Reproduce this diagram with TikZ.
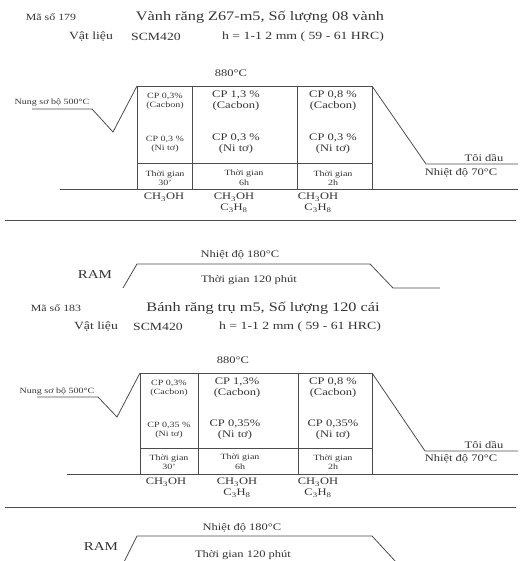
\documentclass[tikz,border=0pt]{standalone}
\usepackage{fontspec}
\setmainfont{Liberation Serif}[FakeStretch=1.25]
\begin{document}
\begin{tikzpicture}[x=1pt,y=-1pt,
  ln/.style={draw=black!70,line width=0.8pt},
  txt/.style={inner sep=0pt,text=black!80,align=center},
  ttl/.style={txt,font=\fontsize{13}{14}\selectfont},
  subl/.style={txt,font=\fontsize{11}{12}\selectfont},
  msl/.style={txt,font=\fontsize{9.5}{10}\selectfont},
  cellA/.style={txt,font=\fontsize{10}{11}\selectfont},
  cellS/.style={txt,font=\fontsize{8}{9}\selectfont},
  cellT/.style={txt,font=\fontsize{8}{9.5}\selectfont},
  lbl/.style={txt,font=\fontsize{10}{11}\selectfont},
  tiny/.style={txt,font=\fontsize{8}{9}\selectfont},
  ramt/.style={txt,font=\fontsize{12}{13}\selectfont}]
\useasboundingbox (0,0) rectangle (520,561);
\clip (0,0) rectangle (520,561);

% ===== Section 1 =====
\node[msl] (ms1) at (51,17) {Mã số 179};
\node[ttl] (t1) at (260,17) {Vành răng Z67-m5, Số lượng 08 vành};
\node[subl] (vl1) at (91,37) {Vật liệu};
\node[subl] (scm1) at (156,37) {SCM420};
\node[subl] (h1) at (303,37) {h = 1-1 2 mm ( 59 - 61 HRC)};
\node[cellA] (d1) at (231,73) {880°C};

\coordinate (a1) at (32,109);
\coordinate (a2) at (92,109);
\coordinate (a3) at (113,132);
\coordinate (a4) at (137,86);
\coordinate (a5) at (372,86);
\coordinate (a6) at (426,164);
\coordinate (a7) at (518,164);
\draw[ln] (a1) -- (a2) -- (a3) -- (a4);
\draw[ln] (a5) -- (a6) -- (a7);
\draw[ln] (137,86) rectangle (372,189);
\draw[ln] (192,86) -- (192,189);
\draw[ln] (297,86) -- (297,189);
\draw[ln] (137,163) -- (372,163);
\draw[ln] (60,189) -- (518,189);
\draw[ln] (5,220) -- (516,220);

\node[tiny] (n1) at (52,103) {Nung sơ bộ 500°C};
\node[lbl] (td1) at (484,158) {Tôi dầu};
\node[lbl] (nd1) at (461,173) {Nhiệt độ 70°C};

\node[cellS] (c11) at (165,101) {CP 0,3\%\\(Cacbon)};
\node[cellS] (c12) at (165,144) {CP 0,3 \%\\(Ni tơ)};
\node[cellS] (c13) at (165,178) {Thời gian\\30'};
\node[cellA] (c21) at (236,101) {CP 1,3 \%\\(Cacbon)};
\node[cellA] (c22) at (236,144) {CP 0,3 \%\\(Ni tơ)};
\node[cellT] (c23) at (244,178) {Thời gian\\6h};
\node[cellA] (c31) at (333,101) {CP 0,8 \%\\(Cacbon)};
\node[cellA] (c32) at (333,144) {CP 0,3 \%\\(Ni tơ)};
\node[cellT] (c33) at (333,178) {Thời gian\\2h};
\node[cellA,anchor=north] (g11) at (164,193) {CH\textsubscript{3}OH};
\node[cellA,anchor=north] (g12) at (234,193) {CH\textsubscript{3}OH\\C\textsubscript{3}H\textsubscript{8}};
\node[cellA,anchor=north] (g13) at (318,193) {CH\textsubscript{3}OH\\C\textsubscript{3}H\textsubscript{8}};

% RAM 1
\coordinate (r1) at (123,288);
\coordinate (r2) at (137,264);
\coordinate (r3) at (370,264);
\coordinate (r4) at (393,288);
\coordinate (r5) at (440,288);
\draw[ln] (r1) -- (r2) -- (r3) -- (r4) -- (r5);
\node[lbl] (rn1) at (240,255) {Nhiệt độ 180°C};
\node[ramt] (ram1) at (95,275) {RAM};
\node[lbl] (rt1) at (249,280) {Thời gian 120 phút};

% ===== Section 2 =====
\node[msl] (ms2) at (56,308) {Mã số 183};
\node[ttl] (t2) at (263,308) {Bánh răng trụ m5, Số lượng 120 cái};
\node[subl] (vl2) at (96,327) {Vật liệu};
\node[subl] (scm2) at (158,327) {SCM420};
\node[subl] (h2) at (300,327) {h = 1-1 2 mm ( 59 - 61 HRC)};
\node[cellA] (d2) at (233,360) {880°C};

\coordinate (b1) at (37,397);
\coordinate (b2) at (98,397);
\coordinate (b3) at (117,417);
\coordinate (b4) at (140,373);
\coordinate (b5) at (372,373);
\coordinate (b6) at (425,451);
\coordinate (b7) at (518,451);
\draw[ln] (b1) -- (b2) -- (b3) -- (b4);
\draw[ln] (b5) -- (b6) -- (b7);
\draw[ln] (140,373) rectangle (372,474);
\draw[ln] (198,373) -- (198,474);
\draw[ln] (298,373) -- (298,474);
\draw[ln] (140,448) -- (372,448);
\draw[ln] (67,474) -- (518,474);
\draw[ln] (5,507) -- (516,507);

\node[tiny] (n2) at (57,392) {Nung sơ bộ 500°C};
\node[lbl] (td2) at (484,445) {Tôi dầu};
\node[lbl] (nd2) at (461,459) {Nhiệt độ 70°C};

\node[cellS] (e11) at (169,388) {CP 0,3\%\\(Cacbon)};
\node[cellS] (e12) at (169,430) {CP 0,35 \%\\(Ni tơ)};
\node[cellS] (e13) at (169,462) {Thời gian\\30'};
\node[cellA] (e21) at (237,388) {CP 1,3\%\\(Cacbon)};
\node[cellA] (e22) at (235,430) {CP 0,35\%\\(Ni tơ)};
\node[cellT] (e23) at (240,462) {Thời gian\\6h};
\node[cellA] (e31) at (333,388) {CP 0,8 \%\\(Cacbon)};
\node[cellA] (e32) at (333,430) {CP 0,35\%\\(Ni tơ)};
\node[cellT] (e33) at (333,462) {Thời gian\\2h};
\node[cellA,anchor=north] (f11) at (166,478) {CH\textsubscript{3}OH};
\node[cellA,anchor=north] (f12) at (237,478) {CH\textsubscript{3}OH\\C\textsubscript{3}H\textsubscript{8}};
\node[cellA,anchor=north] (f13) at (318,478) {CH\textsubscript{3}OH\\C\textsubscript{3}H\textsubscript{8}};

% RAM 2
\coordinate (s1) at (124,562);
\coordinate (s2) at (137,536);
\coordinate (s3) at (372,536);
\coordinate (s4) at (396,562);
\draw[ln] (s1) -- (s2) -- (s3) -- (s4);
\node[lbl] (rn2) at (242,528) {Nhiệt độ 180°C};
\node[ramt] (ram2) at (101,547) {RAM};
\node[lbl] (rt2) at (243,555) {Thời gian 120 phút};
\end{tikzpicture}
\end{document}
